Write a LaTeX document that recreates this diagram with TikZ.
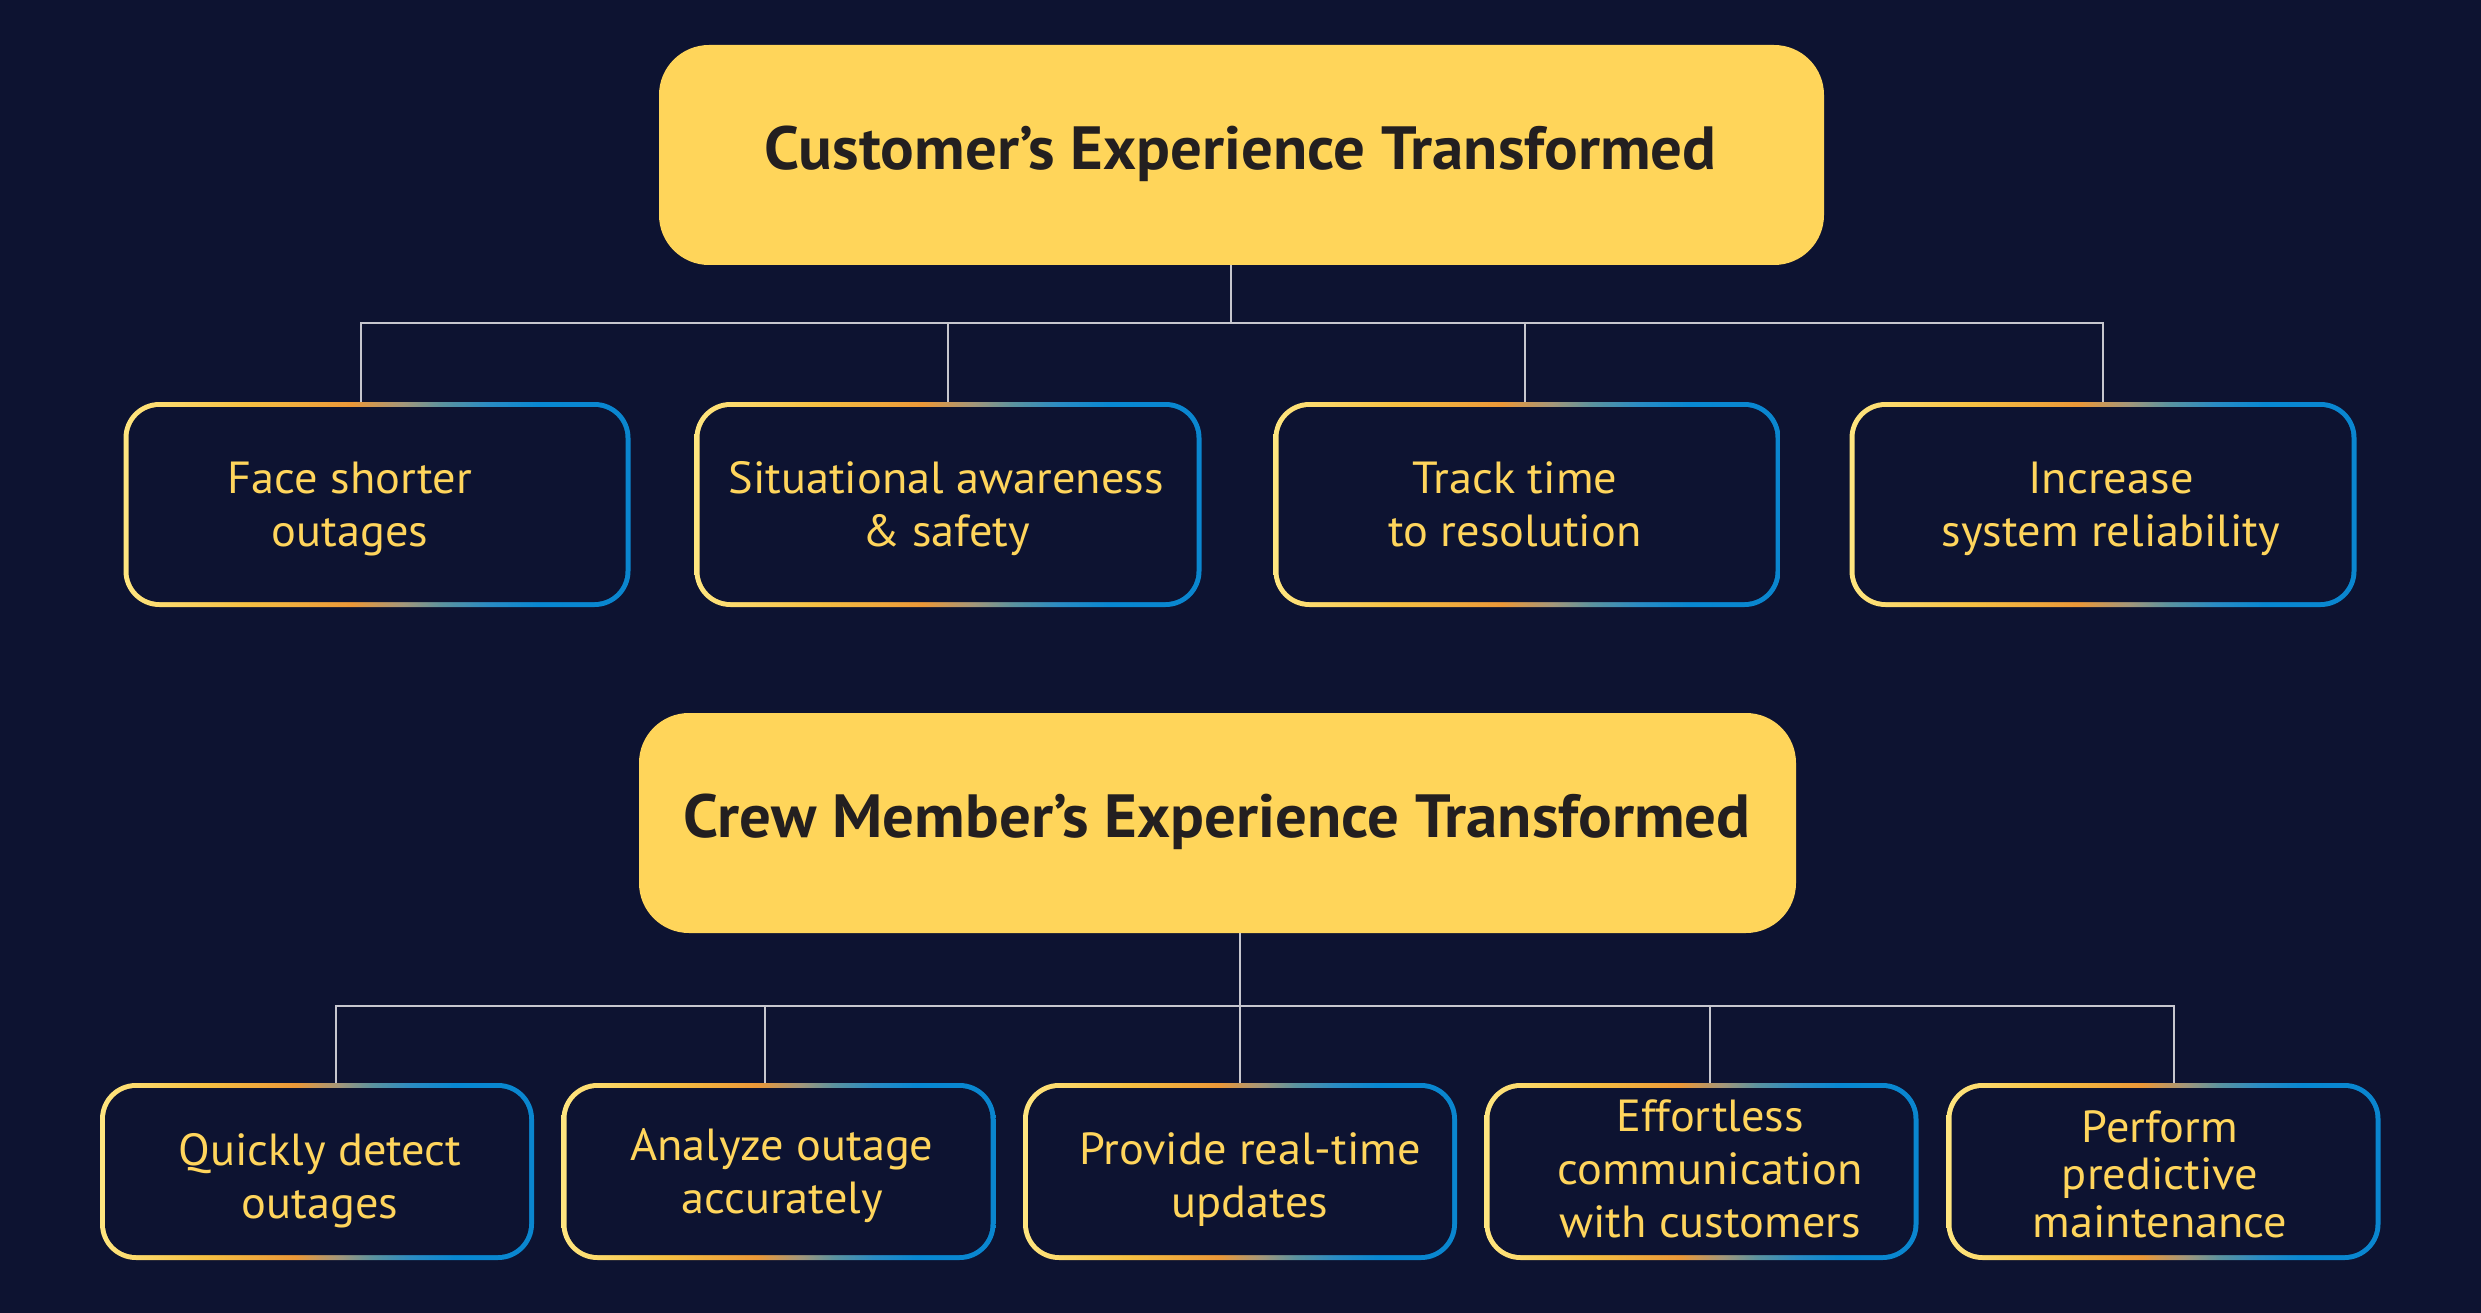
\documentclass[tikz,border=0pt]{standalone}
\usepackage{fontspec}
\setmainfont{PT Sans}[FakeStretch=1.03]
\definecolor{bg}{HTML}{0D1331}
\definecolor{titlefill}{HTML}{FFD55A}
\definecolor{titletext}{HTML}{231F20}
\definecolor{itemtext}{HTML}{FFD55C}
\definecolor{conncol}{HTML}{C6C6CE}
\definecolor{g0}{HTML}{FFE680}
\definecolor{g1}{HTML}{F6C143}
\definecolor{g2}{HTML}{EB9838}
\definecolor{g3}{HTML}{A4977A}
\definecolor{g4}{HTML}{5A93A0}
\definecolor{g5}{HTML}{2A8CC4}
\definecolor{g6}{HTML}{0888D2}
\definecolor{g7}{HTML}{0A86CF}
\pgfdeclarehorizontalshading{bordgrad}{100bp}{color(0bp)=(g0); color(25bp)=(g0); color(37bp)=(g1); color(47.5bp)=(g2); color(52.5bp)=(g3); color(56.5bp)=(g4); color(61bp)=(g5); color(66bp)=(g6); color(75bp)=(g7); color(100bp)=(g7)}
\newcommand\lt{\rule{0pt}{34pt}}
\newcommand\lb{\rule[-12pt]{0pt}{12pt}}
\newcommand\gradbox[5]{%
  \node[boxshape, minimum width=#4pt, minimum height=#5pt] (#1) at (#2,#3) {};
  \shade[shading=bordgrad, rounded corners=36pt] (#1.north west) rectangle (#1.south east);
  \fill[bg, rounded corners=31pt] ([xshift=5pt,yshift=-5pt]#1.north west) rectangle ([xshift=-5pt,yshift=5pt]#1.south east);
}
\tikzset{
  boxshape/.style={rectangle, inner sep=0pt, outer sep=0pt},
  titlebox/.style={rectangle, inner sep=0pt, outer sep=0pt, fill=titlefill, rounded corners=50pt},
  titletxt/.style={anchor=base, inner sep=0pt, text=titletext, font=\fontsize{61pt}{72pt}\selectfont\bfseries},
  itemtxt/.style={anchor=center, inner sep=0pt, align=center, text=itemtext, font=\fontsize{45pt}{53pt}\selectfont},
  conn/.style={draw=conncol, line width=2.5pt}
}
\begin{document}
\begin{tikzpicture}[x=1pt, y=-1pt]
\useasboundingbox (0,0) rectangle (2481,1313);
\fill[bg] (0,0) rectangle (2481,1313);

% titles
\node[titlebox, minimum width=1165pt, minimum height=220pt] (t1) at (1241.5,155) {};
\node[titletxt] (t1t) at (1240.5,170) {Customer’s Experience Transformed};
\node[titlebox, minimum width=1157pt, minimum height=220pt] (t2) at (1217.5,823) {};
\node[titletxt] (t2t) at (1217,837) {Crew Member’s Experience Transformed};

% row 1 boxes
\gradbox{a1}{377}{504.5}{507}{205}
\gradbox{a2}{948}{504.5}{507}{205}
\gradbox{a3}{1527}{504.5}{507}{205}
\gradbox{a4}{2103}{504.5}{507}{205}

% row 2 boxes
\gradbox{b1}{317}{1171.5}{434}{177}
\gradbox{b2}{778.5}{1171.5}{434}{177}
\gradbox{b3}{1240}{1171.5}{434}{177}
\gradbox{b4}{1701.5}{1171.5}{434}{177}
\gradbox{b5}{2163.5}{1171.5}{434}{177}

% texts row 1
\node[itemtxt] (a1t) at (350,509) {\lt Face shorter\\outages\lb};
\node[itemtxt] (a2t) at (946,509) {\lt Situational awareness\\\& safety\lb};
\node[itemtxt] (a3t) at (1515,509) {\lt Track time\\to resolution\lb};
\node[itemtxt] (a4t) at (2111,509) {\lt Increase\\system reliability\lb};

% texts row 2
\node[itemtxt] (b1t) at (320,1180.5) {\lt Quickly detect\\outages\lb};
\node[itemtxt] (b2t) at (782,1176) {\lt Analyze outage\\accurately\lb};
\node[itemtxt] (b3t) at (1250,1180) {\lt Provide real-time\\updates\lb};
\node[itemtxt] (b4t) at (1710,1173.5) {\lt Effortless\\communication\\with customers\lb};
\node[itemtxt, font=\fontsize{45pt}{47.5pt}\selectfont] (b5t) at (2160,1178.5) {\lt Perform\\predictive\\maintenance\lb};

% connectors top
\coordinate (j1) at (1231,323);
\coordinate (d1) at (361,323);
\coordinate (d2) at (948,323);
\coordinate (d3) at (1525,323);
\coordinate (d4) at (2103,323);
\draw[conn] (j1 |- t1.south) -- (j1);
\draw[conn] (d1 |- a1.north) -- (d1) -- (d4) -- (d4 |- a4.north);
\draw[conn] (d2) -- (d2 |- a2.north);
\draw[conn] (d3) -- (d3 |- a3.north);

% connectors bottom
\coordinate (j2) at (1240,1006);
\coordinate (e1) at (336,1006);
\coordinate (e2) at (765,1006);
\coordinate (e3) at (1240,1006);
\coordinate (e4) at (1710,1006);
\coordinate (e5) at (2174,1006);
\draw[conn] (j2 |- t2.south) -- (j2);
\draw[conn] (e1 |- b1.north) -- (e1) -- (e5) -- (e5 |- b5.north);
\draw[conn] (e2) -- (e2 |- b2.north);
\draw[conn] (e3) -- (e3 |- b3.north);
\draw[conn] (e4) -- (e4 |- b4.north);
\end{tikzpicture}
\end{document}
